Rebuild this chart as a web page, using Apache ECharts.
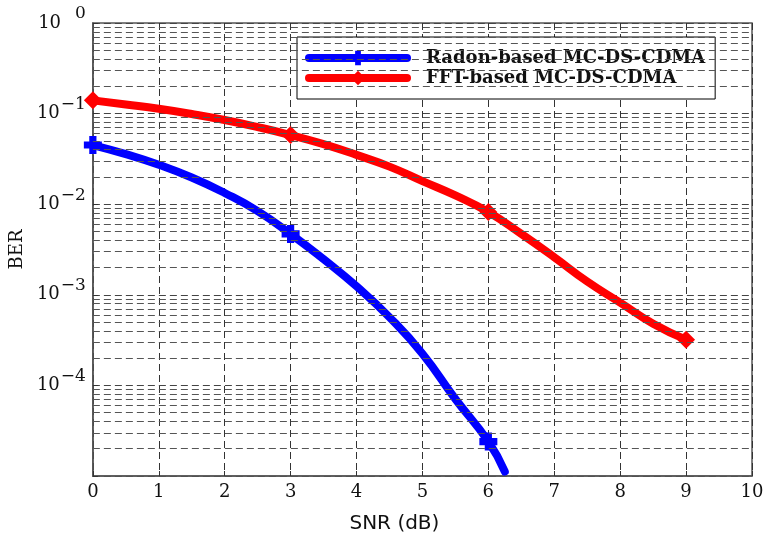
<!DOCTYPE html>
<html>
<head>
<meta charset="utf-8">
<script src="https://cdn.jsdelivr.net/npm/echarts@6/dist/echarts.min.js"></script>
<style>
  html, body { margin: 0; padding: 0; background: #fff; }
  #chart { width: 778px; height: 539px; }
</style>
</head>
<body>
<div id="chart"></div>
<script>
// SNR sample points (dB) and bit error rates for each receiver
const snrRadon = [0, 0.5, 1, 1.5, 2, 2.5, 3, 3.5, 4, 4.5, 5, 5.5, 6, 6.25];
const berRadon = [0.045, 0.0357, 0.0272, 0.0197, 0.0133, 0.0084, 0.0047, 0.00247, 0.00124, 0.000566, 0.000224, 0.0000708, 0.000024, 0.0000112];
const snrFFT = [0, 0.5, 1, 1.5, 2, 2.5, 3, 3.5, 4, 4.5, 5, 5.5, 6, 6.5, 7, 7.5, 8, 8.5, 9];
const berFFT = [0.14, 0.126, 0.113, 0.099, 0.085, 0.071, 0.058, 0.046, 0.035, 0.026, 0.018, 0.0125, 0.0082, 0.0047, 0.0026, 0.0014, 0.00082, 0.00048, 0.00032];

// SNR values where the curve markers are drawn
const markRadon = [0, 3, 6];
const markFFT = [0, 3, 6, 9];

// Axis ranges
const snrTicks = [0, 1, 2, 3, 4, 5, 6, 7, 8, 9, 10];
const berDecades = [1e-5, 1e-4, 1e-3, 1e-2, 1e-1, 1];
const minorMultipliers = [2, 3, 4, 5, 6, 7, 8, 9];

const seriesNames = ['Radon-based MC-DS-CDMA', 'FFT-based MC-DS-CDMA'];

const plusPath = 'path://M3,0H7V3H10V7H7V10H3V7H0V3H3Z';

function buildData(xs, ys, marks) {
  return xs.map((x, i) => ({
    value: [x, ys[i]],
    symbol: marks.indexOf(x) >= 0 ? undefined : 'none'
  }));
}

// Minor log grid lines (2..9 x 10^k)
const minorLines = [];
for (let d = 0; d < berDecades.length - 1; d++) {
  minorMultipliers.forEach(m => minorLines.push({ yAxis: m * berDecades[d] }));
}

const gridDash = [7, 4];
const serif = 'DejaVu Serif';

const chart = echarts.init(document.getElementById('chart'), null, { renderer: 'canvas' });

chart.setOption({
  animation: false,
  backgroundColor: '#fff',
  grid: {
    left: 83, right: 26, top: 23, bottom: 52,
    show: true, borderColor: '#555', borderWidth: 1.5, backgroundColor: '#fff'
  },
  legend: {
    orient: 'vertical',
    left: 297, top: 37,
    padding: [12, 10, 12, 8],
    itemWidth: 98, itemHeight: 18, itemGap: 2,
    backgroundColor: '#fff', borderColor: '#000', borderWidth: 1,
    lineStyle: { width: 8 },
    textStyle: { fontFamily: serif, fontWeight: 'bold', fontSize: 18, color: '#111', padding: [0, 0, 0, 14] },
    data: seriesNames
  },
  xAxis: {
    type: 'value',
    min: snrTicks[0], max: snrTicks[snrTicks.length - 1], interval: 1,
    name: 'SNR (dB)',
    nameLocation: 'middle', nameGap: 38,
    nameTextStyle: { fontFamily: 'DejaVu Sans', fontSize: 20, color: '#111', padding: [0, 56, 0, 0] },
    axisLine: { show: true, lineStyle: { color: '#555', width: 1.5 } },
    axisTick: { show: true, inside: true, length: 5, lineStyle: { color: '#333' } },
    axisLabel: { fontFamily: serif, fontSize: 18, color: '#111', margin: 7 },
    splitLine: { show: true, lineStyle: { color: '#333', type: gridDash, width: 1 } }
  },
  yAxis: {
    type: 'log', logBase: 10,
    min: berDecades[0], max: berDecades[berDecades.length - 1],
    name: 'BER',
    nameLocation: 'middle', nameGap: 64, nameRotate: 90,
    nameTextStyle: { fontFamily: serif, fontSize: 18, color: '#111' },
    axisLine: { show: true, lineStyle: { color: '#555', width: 1.5 } },
    axisTick: { show: true, inside: true, length: 5, lineStyle: { color: '#333' } },
    axisLabel: {
      margin: 7,
      formatter: function (v) {
        const e = Math.round(Math.log10(v));
        if (e <= -5) return '';
        if (e === 0) return '{b|10}{z|0}';
        return '{b|10}{e|\u2212' + (-e) + '}';
      },
      rich: {
        b: { fontFamily: serif, fontSize: 18, color: '#111', verticalAlign: 'middle' },
        e: { fontFamily: serif, fontSize: 17, color: '#111', verticalAlign: 'middle', padding: [0, 0, 18, 1] },
        z: { fontFamily: serif, fontSize: 17, color: '#111', verticalAlign: 'middle', padding: [0, 0, 18, 14] }
      }
    },
    splitLine: { show: true, lineStyle: { color: '#444', type: gridDash, width: 1 } }
  },
  series: [
    {
      // carrier for the minor log grid, drawn beneath the curves
      type: 'line',
      z: 1,
      data: [],
      silent: true,
      markLine: {
        silent: true,
        symbol: 'none',
        precision: 12,
        label: { show: false },
        lineStyle: { color: '#555', type: gridDash, width: 1 },
        data: minorLines
      }
    },
    {
      name: seriesNames[0],
      type: 'line',
      z: 4,
      smooth: true,
      symbol: plusPath,
      symbolSize: 18,
      showSymbol: true,
      showAllSymbol: true,
      lineStyle: { color: '#0000ff', width: 8, cap: 'round', join: 'round' },
      itemStyle: { color: '#0000ff' },
      data: buildData(snrRadon, berRadon, markRadon)
    },
    {
      name: seriesNames[1],
      type: 'line',
      z: 3,
      smooth: true,
      symbol: 'diamond',
      symbolSize: 18,
      showSymbol: true,
      showAllSymbol: true,
      lineStyle: { color: '#ff0000', width: 8, cap: 'round', join: 'round' },
      itemStyle: { color: '#ff0000' },
      data: buildData(snrFFT, berFFT, markFFT)
    }
  ]
});
</script>
</body>
</html>
